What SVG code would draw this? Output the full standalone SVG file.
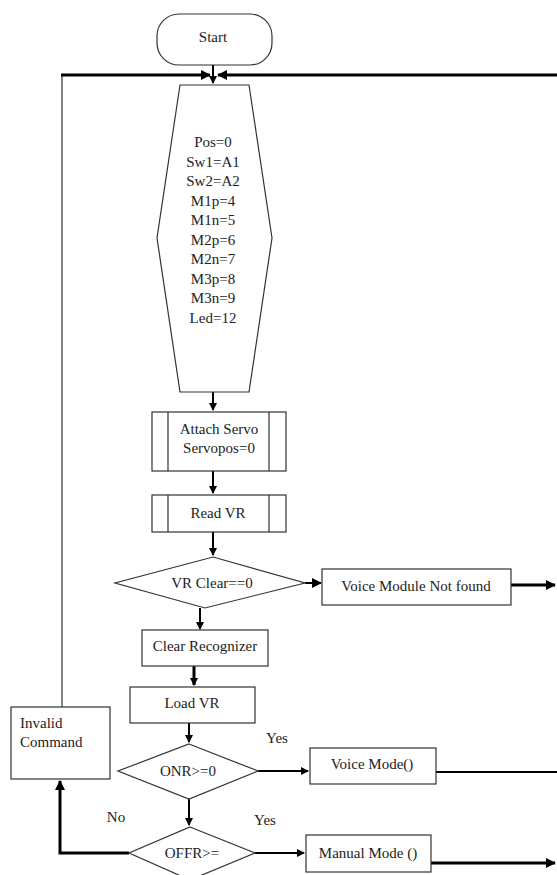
<svg xmlns="http://www.w3.org/2000/svg" width="557" height="875" viewBox="0 0 557 875" font-family="Liberation Serif, Times New Roman, Tinos, DejaVu Serif, serif">
<style>
.s{fill:#fff;stroke:#333;stroke-width:1.2}
.t{font-size:15px;fill:#222;text-anchor:middle;dominant-baseline:central}
.l{text-anchor:start}
.c{fill:none;stroke:#000;stroke-width:2}
.k{fill:none;stroke:#000;stroke-width:3}
.n{fill:none;stroke:#333;stroke-width:1.2}
</style>
<defs>
<marker id="a" markerWidth="8" markerHeight="8" refX="7" refY="4" orient="auto" markerUnits="userSpaceOnUse"><path d="M0,0 L8,4 L0,8 Z" fill="#000"/></marker>
<marker id="b" markerWidth="10" markerHeight="10" refX="9" refY="5" orient="auto" markerUnits="userSpaceOnUse"><path d="M0,0 L10,5 L0,10 Z" fill="#000"/></marker>
</defs>
<rect width="557" height="875" fill="#fff"/>
<g id="connectors">
<path class="c" d="M213,65 V83" marker-end="url(#a)"/>
<path class="n" d="M62,707 V75"/>
<path class="k" d="M61,75 H210" marker-end="url(#b)"/>
<path class="k" d="M557,75 H218" marker-end="url(#b)"/>
<path class="c" d="M213,392 V410" marker-end="url(#a)"/>
<path class="c" d="M213,471 V493" marker-end="url(#a)"/>
<path class="c" d="M213,532 V555" marker-end="url(#a)"/>
<path class="c" d="M305,583 H321" marker-end="url(#b)"/>
<path class="k" d="M511,585 H555" marker-end="url(#b)"/>
<path class="c" d="M200,608 V629" marker-end="url(#a)"/>
<path class="k" d="M194,666 V685" marker-end="url(#a)"/>
<path class="c" d="M189,723 V742" marker-end="url(#a)"/>
<path class="c" d="M258,771 H308" marker-end="url(#a)"/>
<path class="c" d="M436,772 H557"/>
<path class="c" d="M189,799 V825" marker-end="url(#a)"/>
<path class="c" d="M255,853 H304" marker-end="url(#a)"/>
<path class="k" d="M431,863 H555" marker-end="url(#b)"/>
<path class="k" d="M129,853 H60 V781" marker-end="url(#b)"/>
</g>
<g id="start">
<rect class="s" x="157" y="14" width="115" height="51" rx="22"/>
<text class="t" x="213" y="37">Start</text>
</g>
<g id="init">
<path class="s" d="M180,85 H249 L272,238 L249,392 H180 L157,238 Z"/>
<text class="t" x="213" y="142">Pos=0</text>
<text class="t" x="213" y="161.5">Sw1=A1</text>
<text class="t" x="213" y="181">Sw2=A2</text>
<text class="t" x="213" y="200.5">M1p=4</text>
<text class="t" x="213" y="220">M1n=5</text>
<text class="t" x="213" y="239.5">M2p=6</text>
<text class="t" x="213" y="259">M2n=7</text>
<text class="t" x="213" y="278.5">M3p=8</text>
<text class="t" x="213" y="298">M3n=9</text>
<text class="t" x="213" y="317.5">Led=12</text>
</g>
<g id="attach">
<rect class="s" x="152" y="412" width="134" height="59"/>
<path class="n" d="M168,412 V471 M269,412 V471"/>
<text class="t" x="219" y="429">Attach Servo</text>
<text class="t" x="219" y="448">Servopos=0</text>
</g>
<g id="readvr">
<rect class="s" x="152" y="495" width="134" height="37"/>
<path class="n" d="M168,495 V532 M269,495 V532"/>
<text class="t" x="218" y="513">Read VR</text>
</g>
<g id="vrclear">
<path class="s" d="M213,557 L305,583 L205,608 L115,583 Z"/>
<text class="t" x="212" y="583">VR Clear==0</text>
</g>
<g id="notfound">
<rect class="s" x="322" y="569" width="189" height="36"/>
<text class="t" x="416" y="586">Voice Module Not found</text>
</g>
<g id="clearrec">
<rect class="s" x="142" y="630" width="126" height="36"/>
<text class="t" x="205" y="646">Clear Recognizer</text>
</g>
<g id="loadvr">
<rect class="s" x="130" y="687" width="125" height="36"/>
<text class="t" x="192" y="703">Load VR</text>
</g>
<g id="onr">
<path class="s" d="M189,744 L258,771 L189,799 L118,771 Z"/>
<text class="t" x="188" y="771">ONR&gt;=0</text>
</g>
<g id="voicemode">
<rect class="s" x="310" y="748" width="126" height="36"/>
<text class="t" x="372" y="764">Voice Mode()</text>
</g>
<g id="offr">
<path class="s" d="M190,827 L255,853 L190,880 L129,853 Z"/>
<text class="t" x="192" y="853">OFFR&gt;=</text>
</g>
<g id="manual">
<rect class="s" x="306" y="835" width="125" height="37"/>
<text class="t" x="368" y="853">Manual Mode ()</text>
</g>
<g id="invalid">
<rect class="s" x="11" y="707" width="99" height="72"/>
<text class="t l" x="20" y="723">Invalid</text>
<text class="t l" x="20" y="742">Command</text>
</g>
<g id="labels">
<text class="t" x="277" y="738">Yes</text>
<text class="t" x="265" y="820">Yes</text>
<text class="t" x="116" y="817">No</text>
</g>
</svg>
